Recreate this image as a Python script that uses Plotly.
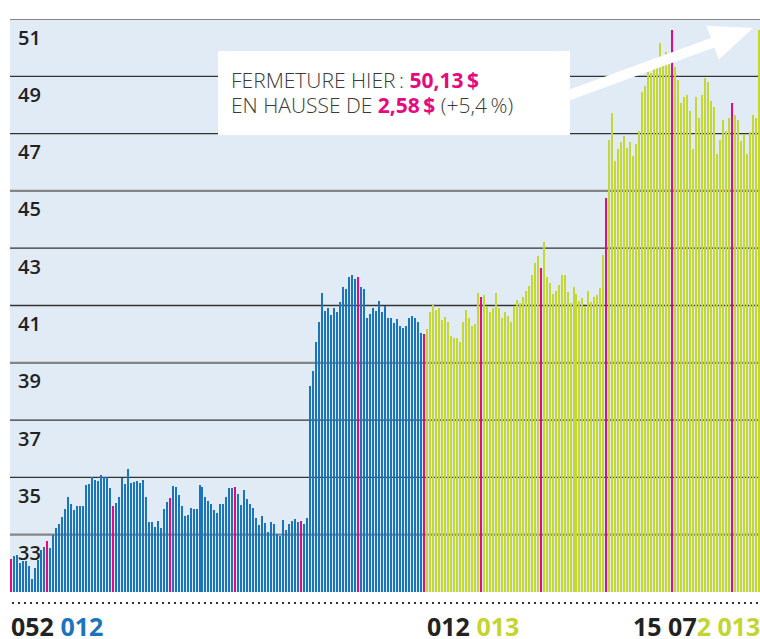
import math
import plotly.graph_objects as go

# ---------------- data ----------------
closes_2012 = [
    32.16, 32.24, 32.28, 32.00, 32.07, 32.07, 31.92, 31.45, 31.83, 32.13,
    32.45, 32.57, 32.78, 32.53, 33.00, 33.24, 33.38, 33.62, 33.90, 34.30,
    34.08, 33.85, 33.99, 34.00, 34.00, 34.74, 34.78, 35.01, 34.92, 34.86,
    35.08, 35.00, 35.00, 34.64, 34.01, 34.10, 34.31, 34.97, 34.76, 35.29,
    34.81, 34.84, 34.87, 34.80, 34.90, 34.30, 33.44, 33.45, 33.28, 33.48,
    33.22, 33.90, 34.15, 34.29, 34.70, 34.65, 34.40, 34.00, 33.67, 33.70,
    33.93, 33.88, 33.88, 34.72, 34.66, 34.31, 34.19, 34.07, 33.85, 33.76,
    34.06, 34.06, 34.33, 34.63, 34.62, 34.65, 34.42, 34.05, 34.57, 34.26,
    34.07, 33.93, 33.60, 33.35, 33.64, 33.41, 33.09, 33.45, 33.37, 33.01,
    32.95, 33.50, 33.16, 33.36, 33.47, 33.55, 33.45, 33.49, 33.38, 33.60,
    38.20, 38.71, 39.72, 40.43, 41.45, 40.81, 40.93, 40.67, 40.90, 40.77,
    41.12, 41.64, 41.58, 41.99, 42.05, 41.92, 41.99, 41.63, 41.56, 40.55,
    40.70, 40.90, 40.80, 41.14, 40.78, 41.00, 40.57, 40.58, 40.38, 40.52,
    40.29, 40.20, 40.29, 40.57, 40.62, 40.56, 40.41, 40.05, 40.01,
]
closes_2013 = [
    40.17, 40.77, 41.01, 40.84, 40.90, 40.51, 40.60, 40.43, 39.93, 39.85,
    39.88, 39.74, 40.41, 40.86, 40.56, 40.30, 40.36, 41.45, 41.28, 41.35,
    40.99, 40.77, 40.92, 41.44, 40.93, 40.56, 40.79, 40.65, 40.42, 41.00,
    41.19, 41.08, 41.29, 41.49, 41.69, 42.05, 42.50, 42.73, 42.31, 43.22,
    42.00, 41.80, 41.40, 41.50, 41.72, 42.05, 42.08, 41.48, 41.08, 41.63,
    41.40, 41.16, 41.27, 41.00, 41.50, 41.12, 41.29, 41.37, 41.62, 42.76,
    44.74, 46.76, 47.73, 46.05, 46.45, 46.70, 46.92, 46.49, 46.70, 46.21,
    46.63, 47.10, 48.44, 48.65, 49.15, 49.13, 49.24, 49.29, 50.17, 49.40,
    49.85, 49.50, 50.63, 49.33, 48.88, 48.08, 48.29, 48.35, 47.80, 46.45,
    48.29, 47.53, 48.34, 48.94, 48.80, 48.14, 47.94, 46.30, 46.77, 47.49,
    47.10, 47.53, 48.06, 47.64, 47.47, 46.73, 47.00, 46.28, 47.05, 47.64,
    47.55, 50.60,
]
# positions (1-based) of the first session of each month, drawn in pink
month_starts = [1, 13, 35, 54, 76, 98, 117, 139, 158, 178, 200, 222, 242]

y_ticks = [51, 49, 47, 45, 43, 41, 39, 37, 35, 33]
strong_ticks = [51, 45, 39, 33]
y_range = [31, 51]

date_labels = [
    ("052 ", "012", "#1a75bc"),
    ("012 ", "013", "#c2d531"),
    ("15 07", "2 013", "#c2d531"),
]
date_label_pos = [1, 140, 209]

note_line1 = "FERMETURE HIER\u2009: "
note_close = "50,13\u2009$"
note_line2 = "EN HAUSSE DE "
note_change = "2,58\u2009$"
note_pct = " (+5,4\u2009%)"

# ---------------- styling ----------------
BLUE = "#1a75bc"
GREEN = "#c4d733"
PINK = "#e6097f"
BG = "#e1ebf6"
W, H = 760, 639
ML, MR, MT, MB = 10, 0, 19, 47

values = closes_2012 + closes_2013
n = len(values)
idx = list(range(1, n + 1))
colors = []
for i in idx:
    if i in month_starts:
        colors.append(PINK)
    elif i <= len(closes_2012):
        colors.append(BLUE)
    else:
        colors.append(GREEN)

pw = W - ML - MR
ph = H - MT - MB
pitch = (759 - 11) / (n - 1)
x0 = 1 - (11 - ML) / pitch
x1 = x0 + pw / pitch

fig = go.Figure(go.Bar(
    x=idx, y=values, width=2.001 / pitch,
    marker=dict(color=colors, line=dict(width=0)),
    hoverinfo="x+y",
))


def px2paper(px, py):
    return (px - ML) / pw, (H - MB - py) / ph


shapes = []
for t in y_ticks:
    strong = t in strong_ticks
    shapes.append(dict(type="line", xref="paper", yref="y", x0=0, x1=1, y0=t, y1=t,
                       line=dict(color="#858585" if strong else "#333333",
                                 width=2.2 if strong else 1.3),
                       layer="below"))

# bottom dotted rule
dy = px2paper(0, 603)[1]
shapes.append(dict(type="line", xref="paper", yref="paper",
                   x0=px2paper(12, 0)[0], x1=1, y0=dy, y1=dy,
                   line=dict(color="#333333", width=2, dash="2px,4px")))

# annotation box
bx0, by0 = px2paper(218, 135)
bx1, by1 = px2paper(570, 51)
shapes.append(dict(type="rect", xref="paper", yref="paper", x0=bx0, x1=bx1, y0=by0, y1=by1,
                   fillcolor="white", line=dict(width=0), layer="above"))

# white arrow
T = (753, 28)
S = (568, 95.5)
L = math.hypot(T[0] - S[0], T[1] - S[1])
d = ((T[0] - S[0]) / L, (T[1] - S[1]) / L)
nn = (-d[1], d[0])
HL, HW, SW = 43, 18, 5
B = (T[0] - HL * d[0], T[1] - HL * d[1])
pts = [
    (S[0] + SW * nn[0], S[1] + SW * nn[1]),
    (B[0] + SW * nn[0], B[1] + SW * nn[1]),
    (B[0] + HW * nn[0], B[1] + HW * nn[1]),
    T,
    (B[0] - HW * nn[0], B[1] - HW * nn[1]),
    (B[0] - SW * nn[0], B[1] - SW * nn[1]),
    (S[0] - SW * nn[0], S[1] - SW * nn[1]),
]
pp = [px2paper(*p) for p in pts]
path = "M " + " L ".join(f"{a:.5f},{b:.5f}" for a, b in pp) + " Z"
shapes.append(dict(type="path", xref="paper", yref="paper", path=path,
                   fillcolor="white", line=dict(width=0), layer="above"))

annotations = []
for t in y_ticks:
    annotations.append(dict(xref="paper", yref="y", x=px2paper(16, 0)[0], y=t,
                            xanchor="left", yanchor="middle", yshift=-18,
                            text=str(t), showarrow=False,
                            font=dict(family="Open Sans", size=20, color="#222222", weight=600)))

for (a, b, col), pos in zip(date_labels, date_label_pos):
    annotations.append(dict(xref="x", yref="paper", x=pos, y=px2paper(0, 626)[1],
                            xanchor="left", yanchor="middle", xshift=-2,
                            text=f"<b>{a}<span style='color:{col}'>{b}</span></b>",
                            showarrow=False,
                            font=dict(family="Open Sans", size=25, color="#222222")))

note_font = dict(family="Open Sans", size=21, color="#3a3a3a", weight=300)
tx, ty1 = px2paper(229, 80)
_, ty2 = px2paper(229, 105)
annotations.append(dict(xref="paper", yref="paper", x=tx, y=ty1, xanchor="left", yanchor="middle",
                        showarrow=False, font=note_font,
                        text=f"{note_line1}<b><span style='color:{PINK}'>{note_close}</span></b>"))
annotations.append(dict(xref="paper", yref="paper", x=tx, y=ty2, xanchor="left", yanchor="middle",
                        showarrow=False, font=note_font,
                        text=f"{note_line2}<b><span style='color:{PINK}'>{note_change}</span></b>{note_pct}"))

fig.update_layout(
    width=W, height=H,
    margin=dict(l=ML, r=MR, t=MT, b=MB, pad=0),
    paper_bgcolor="white", plot_bgcolor=BG,
    showlegend=False, bargap=0,
    xaxis=dict(range=[x0, x1], visible=False, fixedrange=True),
    yaxis=dict(range=y_range, visible=False, showgrid=False, fixedrange=True),
    shapes=shapes, annotations=annotations,
)

fig.write_html(
    "out.html",
    config={"displayModeBar": False},
    post_script="document.body.style.margin='0px';document.body.style.padding='0px';"
                "document.body.style.overflow='hidden';",
)
